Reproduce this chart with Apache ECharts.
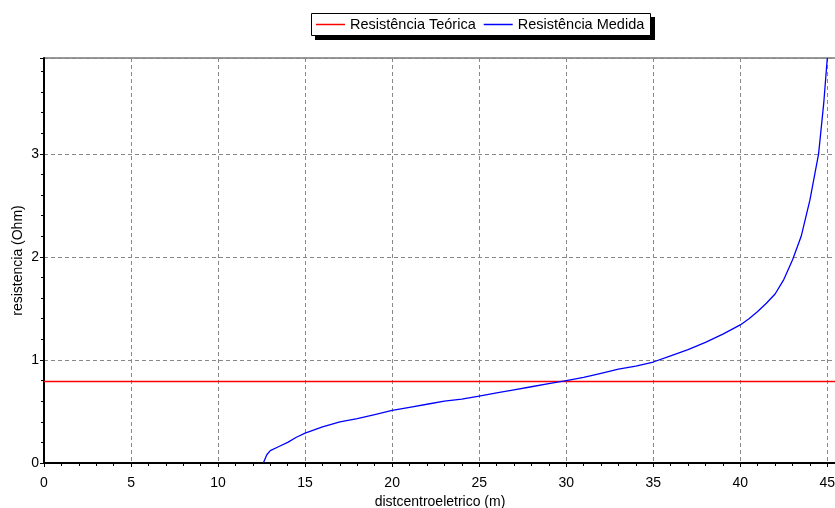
<!DOCTYPE html>
<html><head><meta charset="utf-8">
<script src="https://cdn.jsdelivr.net/npm/echarts@6/dist/echarts.min.js"></script>
<style>html,body{margin:0;padding:0;background:#fff}#c{width:835px;height:508px}</style>
</head><body><div id="c"></div>
<script>
const seriesNames = ['Resistência Teórica', 'Resistência Medida'];
const teoricaX = [0, 45.5];
const teoricaY = [0.79, 0.79];
const medidaX = [12.6, 12.8, 13.0, 13.5, 14, 14.5, 15, 16, 17, 18, 19, 20, 21, 22, 23, 24, 25, 26, 27, 28, 29, 30, 31, 32, 33, 34, 35, 36, 37, 38, 39, 40, 40.5, 41, 41.5, 42, 42.5, 43, 43.5, 44, 44.5, 44.8, 45.0];
const medidaY = [0, 0.08, 0.12, 0.16, 0.2, 0.25, 0.29, 0.35, 0.40, 0.43, 0.47, 0.51, 0.54, 0.57, 0.60, 0.62, 0.65, 0.68, 0.71, 0.74, 0.77, 0.80, 0.83, 0.87, 0.91, 0.94, 0.98, 1.04, 1.10, 1.17, 1.25, 1.34, 1.40, 1.47, 1.55, 1.64, 1.78, 1.97, 2.2, 2.55, 3.0, 3.5, 3.93];
const xMin = 0, xMax = 45.5, xInterval = 5;
const yMin = 0, yMax = 3.93, yInterval = 1;
const xTitle = 'distcentroeletrico (m)';
const yTitle = 'resistencia (Ohm)';

const font = 'Liberation Sans, Arial, sans-serif';
const fs = 14;
const colors = ['#ff0000', '#0000ff'];
const chart = echarts.init(document.getElementById('c'));
const zip = (a, b) => a.map((v, i) => [v, b[i]]);
chart.setOption({
  animation: false,
  color: colors,
  textStyle: {fontFamily: font},
  grid: {left: 44, right: -1, top: 58, bottom: 45, outerBoundsMode: 'none', containLabel: false,
    show: true, borderColor: '#333', borderWidth: 1, backgroundColor: '#fff'},
  graphic: [
    {type: 'rect', left: 315, top: 17, z: 0, silent: true,
     shape: {width: 340, height: 23}, style: {fill: '#000'}},
    {type: 'rect', left: 311, top: 13, z: 1, silent: true,
     shape: {x: 0.5, y: 0.5, width: 339, height: 22}, style: {fill: '#fff', stroke: '#000', lineWidth: 1}}
  ],
  legend: {
    left: 311, top: 13, padding: [4, 5, 3, 5], itemGap: 8, z: 10,
    itemWidth: 29, itemHeight: 1.5, icon: 'rect',
    backgroundColor: 'transparent', borderWidth: 0,
    itemStyle: {borderWidth: 0},
    textStyle: {fontFamily: font, fontSize: 14.5, color: '#000'},
    data: seriesNames
  },
  xAxis: {
    type: 'value', min: xMin, max: xMax, interval: xInterval,
    name: xTitle, nameLocation: 'middle', nameGap: 26,
    nameTextStyle: {fontFamily: font, fontSize: fs, color: '#000'},
    axisLine: {show: true, lineStyle: {color: '#000', width: 2}},
    axisTick: {show: true, length: 4, lineStyle: {color: '#000'}},
    minorTick: {show: true, splitNumber: 5, length: 3, lineStyle: {color: '#000'}},
    axisLabel: {fontFamily: font, fontSize: fs, color: '#000', margin: 13,
      formatter: v => (Math.abs(v % 5) < 1e-9 ? String(v) : '')},
    splitLine: {show: true, lineStyle: {color: '#888', type: [4, 3], width: 1}}
  },
  yAxis: {
    type: 'value', min: yMin, max: yMax, interval: yInterval,
    name: yTitle, nameLocation: 'middle', nameGap: 19, nameMoveOverlap: false,
    nameTextStyle: {fontFamily: font, fontSize: fs, color: '#000'},
    axisLine: {show: true, lineStyle: {color: '#000', width: 2}},
    axisTick: {show: true, length: 4, lineStyle: {color: '#000'}},
    minorTick: {show: true, splitNumber: 5, length: 3, lineStyle: {color: '#000'}},
    axisLabel: {fontFamily: font, fontSize: fs, color: '#000', margin: 5,
      formatter: v => (Math.abs(v - Math.round(v)) < 1e-9 ? String(v) : '')},
    splitLine: {show: true, lineStyle: {color: '#888', type: [4, 3], width: 1}}
  },
  series: [
    {name: seriesNames[0], type: 'line', data: zip(teoricaX, teoricaY), symbol: 'none',
     lineStyle: {color: colors[0], width: 1.5}, itemStyle: {color: colors[0]}},
    {name: seriesNames[1], type: 'line', data: zip(medidaX, medidaY), symbol: 'none',
     lineStyle: {color: colors[1], width: 1.3}, itemStyle: {color: colors[1]}}
  ]
});
</script></body></html>
